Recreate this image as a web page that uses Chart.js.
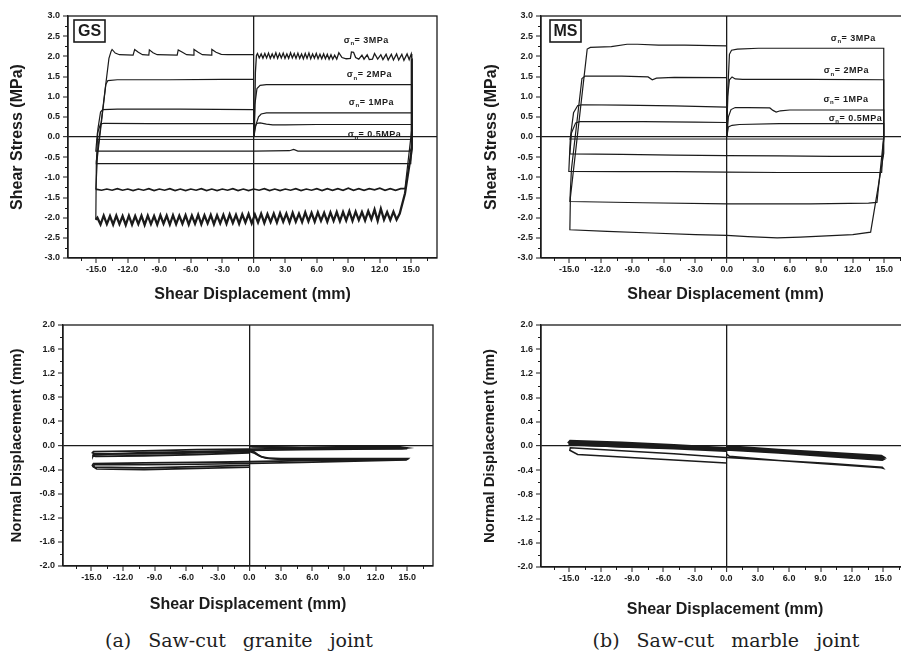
<!DOCTYPE html>
<html><head><meta charset="utf-8">
<script src="https://cdn.jsdelivr.net/npm/chart.js@4.4.1/dist/chart.umd.min.js"></script>
<style>
html,body{margin:0;padding:0;background:#fff;}
body{width:901px;height:655px;overflow:hidden;position:relative;}
canvas{position:absolute;}
.cap{position:absolute;top:628px;font-family:"DejaVu Serif","Liberation Serif",serif;font-size:19px;color:#1e1e1e;white-space:nowrap;word-spacing:11px;transform:translateX(-50%);line-height:24px;}
</style></head><body>
<canvas id="c1" width="450" height="310" style="left:0;top:0"></canvas>
<canvas id="c2" width="470" height="310" style="left:450px;top:0"></canvas>
<canvas id="c3" width="450" height="310" style="left:0;top:310px"></canvas>
<canvas id="c4" width="470" height="310" style="left:450px;top:310px"></canvas>
<div class="cap" style="left:239px">(a) Saw-cut granite joint</div>
<div class="cap" style="left:726px">(b) Saw-cut marble joint</div>
<script>
// ---------- tick labels ----------
const xTicks = [-16.5,-15,-13.5,-12,-10.5,-9,-7.5,-6,-4.5,-3,-1.5,0,1.5,3,4.5,6,7.5,9,10.5,12,13.5,15,16.5];
const xMajor = [-15,-12,-9,-6,-3,0,3,6,9,12,15];
const tauTicks = [-3,-2.75,-2.5,-2.25,-2,-1.75,-1.5,-1.25,-1,-0.75,-0.5,-0.25,0,0.25,0.5,0.75,1,1.25,1.5,1.75,2,2.25,2.5,2.75,3];
const tauMajor = [-3,-2.5,-2,-1.5,-1,-0.5,0,0.5,1,1.5,2,2.5,3];
const dnTicks = [-2,-1.8,-1.6,-1.4,-1.2,-1,-0.8,-0.6,-0.4,-0.2,0,0.2,0.4,0.6,0.8,1,1.2,1.4,1.6,1.8,2];
const dnMajor = [-2,-1.6,-1.2,-0.8,-0.4,0,0.4,0.8,1.2,1.6,2];
const stressLabels = ['= 0.5MPa','= 1MPa','= 2MPa','= 3MPa'];

// ---------- GS shear stress (granite) ----------
const gsTau05 = [[0,0],[0.1,0.25],[0.3,0.34],[0.6,0.35],[1.2,0.32],[1.8,0.3],[3,0.3],[6,0.31],[10,0.31],[15.05,0.31],[15.05,-0.25],[14.9,-0.35],[10,-0.35],[5,-0.35],[4.2,-0.35],[3.8,-0.31],[3.4,-0.34],[0,-0.35],[-5,-0.35],[-10,-0.35],[-15.05,-0.35],[-14.9,0.1],[-14.6,0.32],[-14.3,0.34],[-10,0.33],[-5,0.33],[0,0.33]];
const gsTau1 = [[0,0],[0.2,0.3],[0.45,0.5],[0.7,0.57],[1.2,0.6],[3,0.6],[8,0.6],[15.05,0.6],[15.05,-0.1],[14.95,-0.66],[10,-0.66],[5,-0.66],[0,-0.66],[-5,-0.66],[-10,-0.66],[-15.0,-0.66],[-14.85,0.2],[-14.6,0.62],[-14.4,0.68],[-13,0.69],[-7,0.69],[0,0.68]];
const gsTau2Fwd = [[0,0],[0.1,0.8],[0.3,1.2],[0.6,1.28],[1.2,1.3],[5,1.3],[10,1.3],[15.05,1.3],[15.05,0.2],[14.4,-1.28]];
const gsTau2Rev = [[14.4,-1.28],
 [14.0,-1.28],[13.5,-1.32],[13.0,-1.28],[12.5,-1.32],[12.0,-1.27],[11.5,-1.31],[11.0,-1.28],[10.5,-1.32],[10.0,-1.28],[9.5,-1.32],[9.0,-1.27],[8.5,-1.32],[8.0,-1.28],[7.5,-1.32],[7.0,-1.28],[6.5,-1.33],[6.0,-1.28],[5.5,-1.32],[5.0,-1.29],[4.5,-1.33],[4.0,-1.28],[3.5,-1.32],[3.0,-1.29],[2.5,-1.33],[2.0,-1.29],[1.5,-1.33],[1.0,-1.28],[0.5,-1.32],[0.0,-1.29],[-0.5,-1.33],[-1.0,-1.29],[-1.5,-1.33],[-2.0,-1.28],[-2.5,-1.32],[-3.0,-1.29],[-3.5,-1.33],[-4.0,-1.29],[-4.5,-1.33],[-5.0,-1.28],[-5.5,-1.32],[-6.0,-1.29],[-6.5,-1.33],[-7.0,-1.29],[-7.5,-1.33],[-8.0,-1.28],[-8.5,-1.32],[-9.0,-1.29],[-9.5,-1.33],[-10.0,-1.28],[-10.5,-1.32],[-11.0,-1.29],[-11.5,-1.33],[-12.0,-1.29],[-12.5,-1.32],[-13.0,-1.28],[-13.5,-1.32],[-14.0,-1.29],[-14.5,-1.32],[-14.95,-1.3],[-15.05,-1.3]];
const gsTau2Ret = [[-15.05,-1.3],[-14.9,-0.5],[-14.1,1.3],[-13.9,1.4],[-13,1.42],[-8,1.42],[-3,1.43],[0,1.43]];
const gsTau3Fwd = [[0.05,0],[0.15,1.6],[0.25,2.02],
 [0.35,2.07],[0.52,1.96],[0.7,2.06],[0.87,1.95],[1.05,2.07],[1.22,1.96],[1.4,2.08],[1.57,1.95],[1.75,2.06],[1.92,1.96],[2.1,2.09],[2.27,1.95],[2.45,2.07],[2.62,1.96],[2.8,2.08],[2.97,1.95],[3.15,2.06],[3.32,1.95],[3.5,2.09],[3.67,1.96],[3.85,2.07],[4.02,1.95],[4.2,2.08],[4.37,1.95],[4.55,2.06],[4.72,1.94],[4.9,2.07],[5.07,1.95],[5.25,2.08],[5.42,1.94],[5.6,2.06],[5.77,1.95],[5.95,2.07],[6.12,1.94],[6.3,2.05],[6.47,1.94],[6.65,2.06],[6.82,1.94],[7.0,2.05],[7.17,1.93],[7.35,2.04],[7.52,1.93],[7.7,2.03],[7.9,1.93],
 [8.1,2.09],[8.4,1.97],[8.8,1.94],[9.2,1.95],[9.3,2.11],[9.5,2.1],[9.7,1.97],[10.0,1.93],[10.3,2.03],[10.5,1.93],[10.8,2.04],[11.0,1.92],[11.3,1.93],[11.5,2.07],[11.8,1.93],[12.1,2.04],[12.3,1.92],[12.6,2.05],[12.8,1.91],[13.1,2.05],[13.3,1.91],[13.6,2.06],[13.8,1.91],[14.1,2.05],[14.3,1.9],[14.6,2.06],[14.8,1.92],[15.0,2.06],[15.05,1.95]];
const gsTau3Rev = [[15.05,1.95],[15.05,-0.3],[14.4,-1.4],[13.9,-1.9],
 [13.6,-2.05],[13.3,-1.85],[13.0,-2.06],[12.7,-1.86],[12.4,-2.05],[12.1,-1.78],[11.8,-2.08],[11.5,-1.8],[11.2,-2.04],[10.9,-1.84],[10.6,-2.07],[10.3,-1.86],[10.0,-2.06],[9.7,-1.85],[9.4,-2.08],[9.1,-1.84],[8.8,-2.07],[8.5,-1.86],[8.2,-2.09],[7.9,-1.86],[7.6,-2.08],[7.3,-1.87],[7.0,-2.1],[6.7,-1.88],[6.4,-2.08],[6.1,-1.87],[5.8,-2.1],[5.5,-1.88],[5.2,-2.09],[4.9,-1.87],[4.6,-2.11],[4.3,-1.9],[4.0,-2.1],[3.7,-1.88],[3.4,-2.12],[3.1,-1.9],[2.8,-2.1],[2.5,-1.89],[2.2,-2.12],[1.9,-1.9],[1.6,-2.11],[1.3,-1.91],[1.0,-2.13],[0.7,-1.9],[0.4,-2.12],[0.1,-1.92],[-0.2,-2.14],[-0.5,-1.91],[-0.8,-2.12],[-1.1,-1.92],[-1.4,-2.15],[-1.7,-1.93],[-2.0,-2.13],[-2.3,-1.92],[-2.6,-2.15],[-2.9,-1.93],[-3.2,-2.14],[-3.5,-1.94],[-3.8,-2.16],[-4.1,-1.93],[-4.4,-2.14],[-4.7,-1.94],[-5.0,-2.16],[-5.3,-1.93],[-5.6,-2.15],[-5.9,-1.95],[-6.2,-2.17],[-6.5,-1.94],[-6.8,-2.15],[-7.1,-1.95],[-7.4,-2.16],[-7.7,-1.94],[-8.0,-2.17],[-8.3,-1.95],[-8.6,-2.15],[-8.9,-1.94],[-9.2,-2.17],[-9.5,-1.96],[-9.8,-2.16],[-10.1,-1.95],[-10.4,-2.18],[-10.7,-1.95],[-11.0,-2.16],[-11.3,-1.96],[-11.6,-2.17],[-11.9,-1.95],[-12.2,-2.18],[-12.5,-1.96],[-12.8,-2.16],[-13.1,-1.95],[-13.4,-2.17],[-13.7,-1.96],[-14.0,-2.16],[-14.3,-1.95],[-14.6,-2.17],[-14.9,-2.0],[-15.05,-2.05]];
const gsTau3Ret = [[-15.05,-2.05],[-15.0,-0.6],[-13.8,1.95],[-13.6,2.12],[-13.5,2.17],[-13.2,2.08],[-12.8,2.04],[-11.5,2.03],[-11.35,2.17],[-11.0,2.1],[-10.6,2.04],[-10.0,2.03],[-9.95,2.16],[-9.6,2.09],[-9.2,2.04],[-7.3,2.03],[-7.2,2.16],[-6.8,2.1],[-6.4,2.04],[-5.75,2.03],[-5.7,2.17],[-5.3,2.1],[-4.9,2.04],[-4.05,2.03],[-4.0,2.17],[-3.6,2.1],[-3.1,2.05],[-2.5,2.04],[0,2.04]];
const gsTauBase = [[-15,-0.06],[15,-0.06]];

// ---------- MS shear stress (marble) ----------
const msTau05 = [[0,0],[0.15,0.25],[0.5,0.29],[1.2,0.31],[5,0.33],[10,0.33],[14.95,0.33],[14.95,0],[14.85,-0.48],[10,-0.48],[5,-0.47],[0,-0.46],[-5,-0.45],[-10,-0.43],[-14.95,-0.42],[-14.8,0.1],[-14.4,0.35],[-14.0,0.38],[-8,0.38],[-3,0.37],[0,0.36]];
const msTau1 = [[0,0],[0.15,0.5],[0.4,0.68],[0.8,0.73],[2,0.73],[4.1,0.72],[4.4,0.66],[4.7,0.62],[5.1,0.65],[6,0.67],[10,0.67],[14.95,0.67],[14.95,0],[14.75,-0.88],[10,-0.88],[5,-0.88],[0,-0.87],[-5,-0.86],[-10,-0.86],[-15.05,-0.85],[-14.9,0.0],[-14.6,0.6],[-14.2,0.78],[-13.8,0.8],[-10,0.79],[-5,0.77],[0,0.74]];
const msTau2 = [[0,0],[0.08,1.0],[0.25,1.42],[0.5,1.49],[0.8,1.44],[1.5,1.43],[8,1.43],[14.95,1.42],[14.95,0],[14.3,-1.62],[13.5,-1.64],[8,-1.66],[0,-1.66],[-8,-1.63],[-14.95,-1.6],[-14.8,-0.8],[-13.8,1.45],[-13.5,1.51],[-10,1.51],[-7.5,1.49],[-7.1,1.42],[-6.7,1.46],[-5,1.48],[0,1.47]];
const msTau3 = [[0,0],[0.1,1.2],[0.25,2.05],[0.45,2.15],[1,2.18],[3,2.2],[8,2.2],[14.95,2.2],[14.95,-0.4],[13.7,-2.36],[12,-2.42],[9,-2.46],[7,-2.48],[4.8,-2.5],[2,-2.47],[0,-2.44],[-3,-2.42],[-7.2,-2.38],[-11.4,-2.34],[-14.95,-2.3],[-14.9,-1.5],[-13.3,2.18],[-13.0,2.22],[-11,2.24],[-9.5,2.3],[-8.5,2.3],[-6.5,2.28],[-4,2.28],[0,2.26]];
const msTauBase = [[-15,-0.05],[15,-0.05]];

// ---------- GS normal displacement ----------
const gsDn1 = [[0,0],[0.3,-0.02],[5,-0.03],[10,-0.02],[14.2,-0.02],[14.6,-0.03],[15,-0.04],[14.5,-0.05],[10,-0.05],[5,-0.05],[0,-0.06],[-5,-0.07],[-10,-0.09],[-14.8,-0.1],[-14.9,-0.12],[-14.7,-0.14],[-10,-0.14],[-5,-0.12],[0,-0.1]];
const gsDn2 = [[0,-0.02],[5,-0.04],[10,-0.04],[14,-0.03],[15,-0.05],[10,-0.06],[5,-0.07],[0,-0.08],[-5,-0.1],[-10,-0.12],[-14.8,-0.15],[-14.85,-0.17],[-14.6,-0.18],[-10,-0.17],[-5,-0.15],[0,-0.12]];
const gsDn3 = [[0,-0.08],[0.4,-0.1],[0.8,-0.15],[1.2,-0.19],[1.8,-0.21],[3,-0.22],[8,-0.22],[15,-0.22],[14.9,-0.23],[10,-0.24],[5,-0.25],[0,-0.27],[-5,-0.28],[-10,-0.29],[-14.8,-0.3],[-14.9,-0.33],[-14.7,-0.36],[-10,-0.37],[-5,-0.35],[0,-0.33]];
const gsDn4 = [[0,-0.1],[0.5,-0.13],[1.0,-0.18],[1.6,-0.21],[3,-0.23],[10,-0.23],[15,-0.23],[14.9,-0.24],[10,-0.26],[5,-0.28],[0,-0.3],[-5,-0.31],[-10,-0.32],[-14.7,-0.32],[-14.85,-0.35],[-14.5,-0.39],[-10,-0.4],[-5,-0.38],[0,-0.36]];

// ---------- MS normal displacement ----------
const msDn1 = [[0,-0.01],[5,-0.07],[10,-0.12],[14.8,-0.17],[15,-0.19],[14.8,-0.21],[10,-0.15],[5,-0.09],[0,-0.04],[-5,0.01],[-10,0.05],[-14.9,0.08],[-15,0.06],[-14.8,0.03],[-10,0.0],[-5,-0.02],[0,-0.05]];
const msDn2 = [[0,-0.05],[5,-0.11],[10,-0.17],[15,-0.22],[14.9,-0.23],[10,-0.17],[5,-0.11],[0,-0.06],[-5,-0.01],[-10,0.02],[-14.9,0.05],[-14.95,0.03],[-10,-0.01],[-5,-0.04],[0,-0.08]];
const msDn3 = [[0,-0.13],[0.3,-0.17],[5,-0.24],[10,-0.3],[14.8,-0.36],[15,-0.37],[14.9,-0.35],[10,-0.29],[5,-0.24],[0,-0.19],[-5,-0.13],[-10,-0.08],[-14.9,-0.03],[-14.95,-0.07],[-14.2,-0.14],[-10,-0.18],[-5,-0.23],[0,-0.28]];

const FONT = '"Liberation Sans", Arial, Helvetica, sans-serif';
const INK = '#1b1b1b';

const framePlugin = {
  id: 'frame',
  afterDraw(chart, args, o) {
    const {ctx, chartArea: a, scales: {x, y}} = chart;
    ctx.save();
    ctx.strokeStyle = INK; ctx.fillStyle = INK;
    ctx.lineWidth = 1.3;
    ctx.strokeRect(a.left, a.top, a.right - a.left, a.bottom - a.top);
    ctx.lineWidth = 1;
    ctx.beginPath();
    o.xMinor.forEach(v => { const p = Math.round(x.getPixelForValue(v)) + 0.5; ctx.moveTo(p, a.bottom); ctx.lineTo(p, a.bottom + 3); });
    o.yMinor.forEach(v => { const p = Math.round(y.getPixelForValue(v)) + 0.5; ctx.moveTo(a.left - 3, p); ctx.lineTo(a.left, p); });
    ctx.stroke();
    if (o.box) {
      ctx.lineWidth = 1.6;
      ctx.strokeRect(a.left + o.box.dx, a.top + 4, 31, 22);
      ctx.font = 'bold 16px ' + FONT; ctx.textAlign = 'center'; ctx.textBaseline = 'middle';
      ctx.fillText(o.box.t, a.left + o.box.dx + 15.5, a.top + 15.5);
    }
    ctx.textAlign = 'left'; ctx.textBaseline = 'middle';
    try { ctx.letterSpacing = '0.5px'; } catch (e) {}
    (o.notes || []).forEach(n => {
      let px = x.getPixelForValue(n.x), py = y.getPixelForValue(n.y);
      ctx.font = 'bold 9px ' + FONT; ctx.fillText('σ', px, py); px += ctx.measureText('σ').width;
      ctx.font = 'bold 6px ' + FONT; ctx.fillText('n', px, py + 3); px += ctx.measureText('n').width;
      ctx.font = 'bold 9px ' + FONT; ctx.fillText(n.t, px, py);
    });
    ctx.restore();
  }
};

function mk(id, g, xTitle, yTitle, yAll, yMaj, yMin, yMax, sets, notes, box) {
  const isMajX = v => xMajor.indexOf(v) >= 0;
  const isMajY = v => yMaj.indexOf(v) >= 0;
  return new Chart(document.getElementById(id), {
    type: 'scatter',
    data: { datasets: sets.map(s => ({
      data: s.d.map(p => ({x: p[0], y: p[1]})), showLine: true, borderColor: INK,
      borderWidth: s.w, pointRadius: 0, pointHoverRadius: 0, fill: false, tension: 0 })) },
    options: {
      responsive: false, animation: false, events: [], devicePixelRatio: 1,
      layout: { padding: { left: 0, top: g.pt, right: g.pr, bottom: 0 } },
      plugins: { legend: { display: false }, tooltip: { enabled: false },
        frame: { xMinor: xTicks.filter(v => !isMajX(v)), yMinor: yAll.filter(v => !isMajY(v)), notes: notes, box: box } },
      scales: {
        x: {
          type: 'linear', min: -17.7, max: 17.45,
          afterBuildTicks: s => { s.ticks = xTicks.map(v => ({value: v})); },
          afterFit: s => { s.height = g.xh; },
          ticks: { autoSkip: false, maxRotation: 0, minRotation: 0, padding: 1, color: INK,
            font: { family: FONT, size: 9, weight: 'bold' },
            callback: v => isMajX(v) ? v.toFixed(1) : '' },
          grid: { drawOnChartArea: true, tickLength: 5,
            color: c => (c.tick && c.tick.value === 0) ? INK : 'rgba(0,0,0,0)',
            lineWidth: c => (c.tick && c.tick.value === 0) ? 1.3 : 0,
            tickColor: c => (c.tick && isMajX(c.tick.value)) ? INK : 'rgba(0,0,0,0)', tickWidth: 1 },
          border: { display: true, color: INK, width: 1.3 },
          title: { display: true, text: xTitle, color: INK, font: { family: FONT, size: 16, weight: 'bold' }, padding: { top: 0, bottom: g.xtp } }
        },
        y: {
          type: 'linear', min: yMin, max: yMax,
          afterBuildTicks: s => { s.ticks = yAll.map(v => ({value: v})); },
          afterFit: s => { s.width = g.yw; },
          ticks: { autoSkip: false, padding: 3, color: INK,
            font: { family: FONT, size: 9, weight: 'bold' },
            callback: v => isMajY(v) ? v.toFixed(1) : '' },
          grid: { drawOnChartArea: true, tickLength: 5,
            color: c => (c.tick && c.tick.value === 0) ? INK : 'rgba(0,0,0,0)',
            lineWidth: c => (c.tick && c.tick.value === 0) ? 1.3 : 0,
            tickColor: c => (c.tick && isMajY(c.tick.value)) ? INK : 'rgba(0,0,0,0)', tickWidth: 1 },
          border: { display: true, color: INK, width: 1.3 },
          title: { display: true, text: yTitle, color: INK, font: { family: FONT, size: g.yfs, weight: 'bold' }, padding: { top: g.ytp, bottom: 0 } }
        }
      }
    },
    plugins: [framePlugin]
  });
}

mk('c1', {pt: 16, pr: 13, yw: 68, xh: 52, ytp: 8.4, xtp: 5.4, yfs: 16},
  'Shear Displacement (mm)', 'Shear Stress (MPa)', tauTicks, tauMajor, -3, 3,
  [{d: gsTau05, w: 1.2}, {d: gsTau1, w: 1.2}, {d: gsTau2Fwd, w: 1.2}, {d: gsTau2Rev, w: 1.7}, {d: gsTau2Ret, w: 1.2},
   {d: gsTau3Fwd, w: 1.3}, {d: gsTau3Rev, w: 2.3}, {d: gsTau3Ret, w: 1.2}, {d: gsTauBase, w: 1}],
  [{x: 8.57, y: 2.4, t: stressLabels[3]}, {x: 8.86, y: 1.54, t: stressLabels[2]}, {x: 9.05, y: 0.85, t: stressLabels[1]}, {x: 8.95, y: 0.07, t: stressLabels[0]}],
  {t: 'GS', dx: 6});

mk('c2', {pt: 16, pr: 10, yw: 91, xh: 52, ytp: 32.4, xtp: 5.4, yfs: 16},
  'Shear Displacement (mm)', 'Shear Stress (MPa)', tauTicks, tauMajor, -3, 3,
  [{d: msTau05, w: 1.2}, {d: msTau1, w: 1.2}, {d: msTau2, w: 1.2}, {d: msTau3, w: 1.2}, {d: msTauBase, w: 1}],
  [{x: 9.9, y: 2.45, t: stressLabels[3]}, {x: 9.24, y: 1.64, t: stressLabels[2]}, {x: 9.2, y: 0.93, t: stressLabels[1]}, {x: 9.7, y: 0.46, t: stressLabels[0]}],
  {t: 'MS', dx: 9});

mk('c3', {pt: 15, pr: 17, yw: 63, xh: 54, ytp: 8, xtp: 5.4, yfs: 15},
  'Shear Displacement (mm)', 'Normal Displacement (mm)', dnTicks, dnMajor, -2, 2,
  [{d: gsDn1, w: 1.8}, {d: gsDn2, w: 1.8}, {d: gsDn3, w: 1.8}, {d: gsDn4, w: 1.6}],
  [], null);

mk('c4', {pt: 15, pr: 11, yw: 91, xh: 53, ytp: 31, xtp: 0.4, yfs: 15},
  'Shear Displacement (mm)', 'Normal Displacement (mm)', dnTicks, dnMajor, -2, 2,
  [{d: msDn1, w: 3}, {d: msDn2, w: 2.2}, {d: msDn3, w: 1.5}],
  [], null);
</script>
</body></html>
